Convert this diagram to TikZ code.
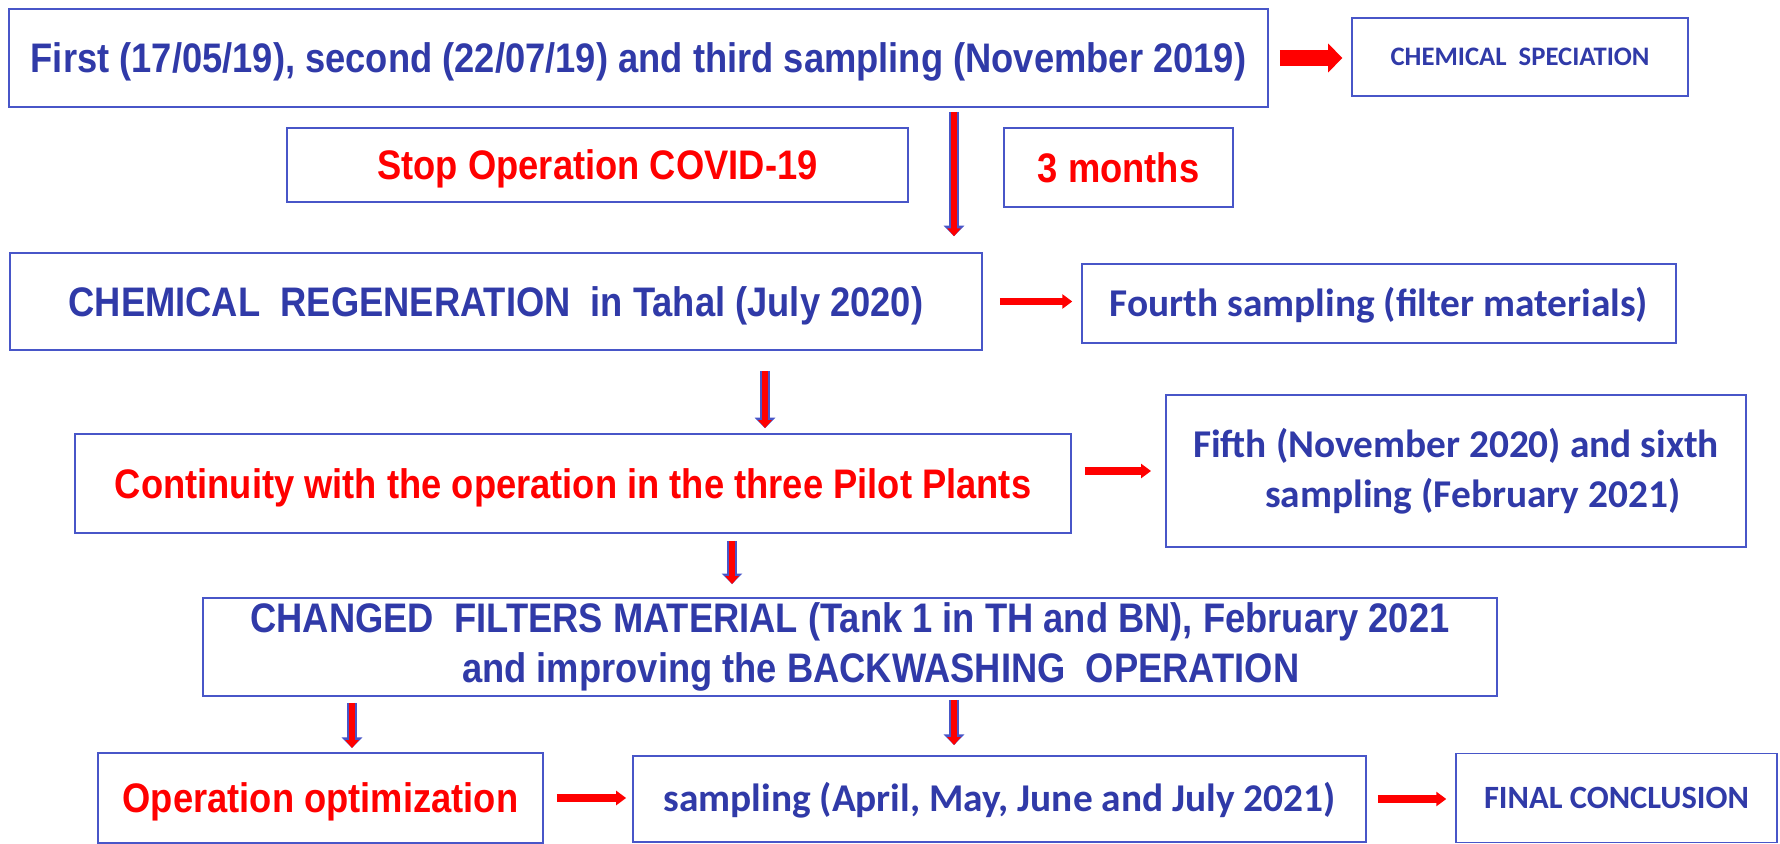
\documentclass[tikz,border=0pt]{standalone}
\usepackage{fontspec}
\setmainfont{Liberation Sans}
\newfontfamily\slimfont[FakeStretch=0.88]{Liberation Sans}
\newfontfamily\notefont{Carlito}
\usetikzlibrary{arrows.meta}
\definecolor{boxblue}{RGB}{72,86,200}
\definecolor{inkblue}{RGB}{48,58,168}

\begin{document}
\begin{tikzpicture}[x=0.02cm,y=-0.02cm,
  box/.style={draw=boxblue,line width=1.1pt,inner sep=0pt,align=center},
  main text/.style={font=\slimfont\bfseries\fontsize{23.5}{28.3}\selectfont,text height=16.8pt,text depth=0pt},
  note text/.style={font=\notefont\bfseries\fontsize{22.4}{28.3}\selectfont,text=inkblue,text height=14.6pt,text depth=0pt},
  small caps text/.style={font=\notefont\bfseries\fontsize{#1}{1.2\dimexpr#1pt}\selectfont,text=inkblue,text height=0.644*#1pt,text depth=0pt},
  two lines/.style={text height=,text depth=},
  down/.style={draw=red,line width=3.2pt,-{Triangle[width=7.5pt,length=4.5pt]},
    preaction={draw=boxblue,line width=5.6pt,-{Triangle[width=11.5pt,length=6pt]}}},
  across/.style={draw=red,line width=4.5pt,-{Triangle[width=8pt,length=5.7pt]}},
  across thick/.style={draw=red,line width=9.6pt,-{Triangle[width=16pt,length=8pt]}}]

  \useasboundingbox (0,0) rectangle (1780,844);

  \node[box,main text,text=inkblue,minimum width=25.18cm,minimum height=1.96cm] (first) at (638.5,58)
    {First (17/05/19), second (22/07/19) and third sampling (November 2019)};
  \node[box,small caps text=15.2,minimum width=6.72cm,minimum height=1.56cm] (spec) at (1520,57)
    {CHEMICAL\ \ SPECIATION};
  \node[box,main text,text=red,minimum width=12.42cm,minimum height=1.48cm] (stop) at (597.5,165) {Stop Operation COVID-19};
  \node[box,main text,text=red,minimum width=4.58cm,minimum height=1.58cm] (months) at (1118.5,167.5) {3 months};
  \node[box,main text,text=inkblue,minimum width=19.44cm,minimum height=1.94cm] (regen) at (496,301.5)
    {CHEMICAL\ \ REGENERATION\ \ in Tahal (July 2020)};
  \node[box,note text,minimum width=11.88cm,minimum height=1.58cm] (fourth) at (1379,303.5)
    {Fourth sampling (filter materials)};
  \node[box,main text,text=red,minimum width=19.92cm,minimum height=1.98cm] (cont) at (573,483.5)
    {Continuity with the operation in the three Pilot Plants};
  \node[box,note text,two lines,minimum width=11.6cm,minimum height=3.04cm] (fifth) at (1456,471)
    {Fifth (November 2020) and sixth\\ \hspace*{19pt}sampling (February 2021)};
  \node[box,main text,two lines,text=inkblue,minimum width=25.88cm,minimum height=1.96cm] (changed) at (850,647)
    {CHANGED\ \ FILTERS MATERIAL (Tank 1 in TH and BN), February 2021\\ \hspace*{35pt}and improving the BACKWASHING\ \ OPERATION};
  \node[box,main text,text=red,minimum width=8.9cm,minimum height=1.8cm] (opt) at (320.5,798) {Operation optimization};
  \node[box,note text,minimum width=14.66cm,minimum height=1.72cm] (samp) at (999.5,799)
    {sampling (April, May, June and July 2021)};
  \node[box,small caps text=18.5,minimum width=6.42cm,minimum height=1.78cm] (final) at (1616.5,798)
    {FINAL CONCLUSION};

  \coordinate (colA) at (954,0);
  \coordinate (colB) at (765,0);
  \coordinate (colC) at (732,0);
  \coordinate (colD) at (352,0);

  \path
    (first.east) edge [across thick,shorten <=6.2pt,shorten >=5pt] (spec.west |- first.east)
    (first.south -| colA) edge [down,shorten <=2.3pt,shorten >=9pt] (regen.north -| colA)
    (regen.east) edge [across,shorten <=9.6pt,shorten >=5pt] (fourth.west |- regen.east)
    (regen.south -| colB) edge [down,shorten <=11.3pt,shorten >=2.8pt] (cont.north -| colB)
    (cont.east |- fifth.west) edge [across,shorten <=7.4pt,shorten >=8pt] (fifth.west)
    (cont.south -| colC) edge [down,shorten <=4pt,shorten >=7.4pt] (changed.north -| colC)
    (changed.south -| colD) edge [down,shorten <=3.4pt,shorten >=2.3pt] (opt.north -| colD)
    (changed.south -| colA) edge [down,shorten <=1.7pt,shorten >=5.7pt] (samp.north -| colA)
    (opt.east) edge [across,shorten <=7.4pt,shorten >=3.4pt] (samp.west |- opt.east)
    (samp.east) edge [across,shorten <=6.2pt,shorten >=5pt] (final.west |- samp.east);
\end{tikzpicture}
\end{document}
